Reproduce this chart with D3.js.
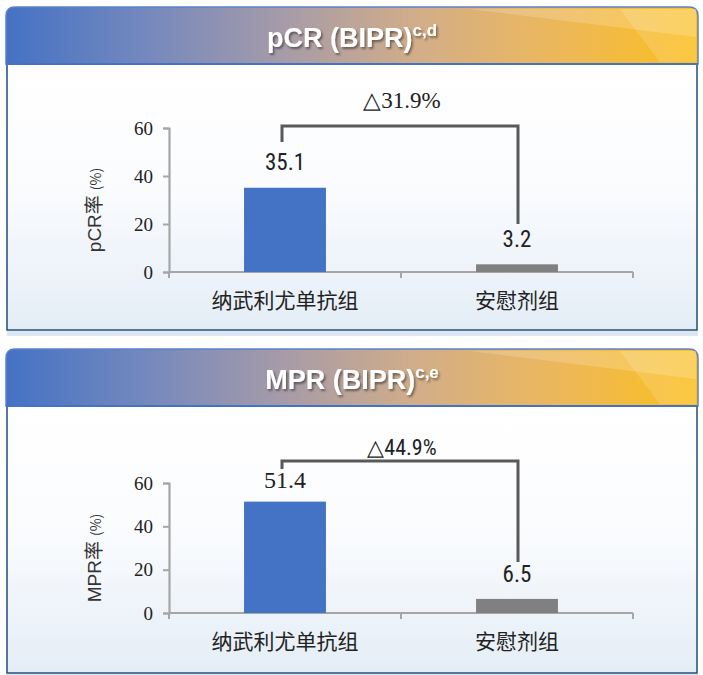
<!DOCTYPE html>
<html>
<head>
<meta charset="utf-8">
<script src="https://cdn.jsdelivr.net/npm/d3@7"></script>
<style>
  body { margin: 0; background: #fff; }
  svg { display: block; }
</style>
</head>
<body>
<svg id="chart" width="703" height="675"></svg>
<script>
// data
const groups = ['纳武利尤单抗组', '安慰剂组'];
const pcrValues = [35.1, 3.2];
const mprValues = [51.4, 6.5];
const yTicks = [0, 20, 40, 60];
const titles = ['pCR (BIPR)', 'MPR (BIPR)'];
const titleSups = ['c,d', 'c,e'];
const yLabels = ['pCR率', 'MPR率'];
const deltaLabels = ['△31.9%', '△44.9%'];

const svg = d3.select('#chart');
const defs = svg.append('defs');

const hg = defs.append('linearGradient').attr('id', 'headGrad');
[[0, '#4472c4'], [0.2, '#7488be'], [0.4, '#a69ba8'], [0.6, '#d3ae88'],
 [0.8, '#edb85a'], [1, '#fbbf1e']].forEach(s =>
  hg.append('stop').attr('offset', s[0]).attr('stop-color', s[1]));

const bg = defs.append('linearGradient').attr('id', 'bodyGrad')
  .attr('x1', 0).attr('x2', 0).attr('y1', 0).attr('y2', 1);
[[0, '#ffffff'], [0.45, '#fbfcfe'], [1, '#e4edf6']].forEach(s =>
  bg.append('stop').attr('offset', s[0]).attr('stop-color', s[1]));

const shadow = defs.append('filter').attr('id', 'shadow')
  .attr('x', -0.1).attr('y', -0.3).attr('width', 1.3).attr('height', 1.6);
shadow.append('feDropShadow').attr('dx', 1.5).attr('dy', 2)
  .attr('stdDeviation', 1.2).attr('flood-color', '#000').attr('flood-opacity', 0.45);

// panel layout
const panels = [
  { top: 7, bodyBottom: 330, y0: 272, y60: 128, values: pcrValues,
    valueFont: 'narrow', deltaFont: 'serif', deltaY: 108,
    bracket: { top: 60.8, left: 54.2, right: 20 }, valueY: [170, 247] },
  { top: 349, bodyBottom: 673, y0: 613, y60: 483, values: mprValues,
    valueFont: 'serif', deltaFont: 'narrow', deltaY: 455,
    bracket: { top: 70.1, left: 66.5, right: 23.5 }, valueY: [488, 582] }
];

const fonts = {
  narrow: 'Roboto Condensed',
  sans: 'Liberation Sans',
  serif: 'Liberation Serif',
  cjk: 'Noto Sans CJK SC'
};
const left = 6, right = 698, headH = 57;
const xScale = d3.scaleBand().domain(groups).range([169, 633])
  .paddingInner(0.647).paddingOuter(0.3235);

panels.forEach((p, i) => {
  const g = svg.append('g');

  // body
  g.append('rect').attr('x', left + 1).attr('y', p.top + headH)
    .attr('width', right - left - 2).attr('height', p.bodyBottom - p.top - headH)
    .attr('fill', 'url(#bodyGrad)').attr('stroke', '#1f4e79').attr('stroke-width', 1.5);
  g.append('rect').attr('x', left + 1).attr('y', p.bodyBottom + 1)
    .attr('width', right - left - 1).attr('height', 5).attr('fill', '#dce7f3');

  // header
  const r = 9;
  const hp = `M${left},${p.top + headH} V${p.top + r} Q${left},${p.top} ${left + r},${p.top}
    H${right - r} Q${right},${p.top} ${right},${p.top + r} V${p.top + headH} Z`;
  g.append('path').attr('d', hp).attr('fill', 'url(#headGrad)')
    .attr('stroke', '#5b82c9').attr('stroke-width', 1.5);
  g.append('path')
    .attr('d', `M470,${p.top + 2} L${right - 2},${p.top + 2} L${right - 2},${p.top + 30} Z`)
    .attr('fill', '#fff').attr('opacity', 0.18);
  g.append('path')
    .attr('d', `M620,${p.top + 2} L${right - 2},${p.top + 2} L${right - 2},${p.top + headH - 2} L660,${p.top + headH - 2} Z`)
    .attr('fill', '#fff').attr('opacity', 0.15);
  g.append('line').attr('x1', left).attr('x2', right)
    .attr('y1', p.top + headH).attr('y2', p.top + headH)
    .attr('stroke', '#4472c4').attr('stroke-width', 2);

  const title = g.append('text').attr('x', 352).attr('y', p.top + 40)
    .attr('text-anchor', 'middle').attr('fill', '#fff')
    .attr('font-family', fonts.sans)
    .attr('font-weight', 'bold').attr('font-size', 27).attr('filter', 'url(#shadow)');
  title.append('tspan').text(titles[i]);
  title.append('tspan').attr('font-size', 17).attr('dy', -11).text(titleSups[i]);

  // scales
  const y = d3.scaleLinear().domain([0, 60]).range([p.y0, p.y60]);

  // y axis
  const yAxis = g.append('g').attr('transform', 'translate(169,0)')
    .call(d3.axisLeft(y).tickValues(yTicks).tickSize(6).tickPadding(10));
  yAxis.attr('font-family', fonts.serif).attr('font-size', 19);
  yAxis.select('.domain').attr('stroke', '#a6a6a6').attr('stroke-width', 2.2);
  yAxis.selectAll('.tick line').attr('stroke', '#a6a6a6').attr('stroke-width', 2);
  yAxis.selectAll('.tick text').attr('fill', '#222');

  // x axis
  const xAxisG = g.append('g');
  xAxisG.append('line').attr('x1', 169).attr('x2', 633)
    .attr('y1', p.y0).attr('y2', p.y0).attr('stroke', '#a6a6a6').attr('stroke-width', 2.2);
  xAxisG.selectAll('line.tk').data([169, 401, 633]).join('line').attr('class', 'tk')
    .attr('x1', d => d).attr('x2', d => d).attr('y1', p.y0).attr('y2', p.y0 + 6)
    .attr('stroke', '#a6a6a6').attr('stroke-width', 2);
  xAxisG.selectAll('text').data(groups).join('text')
    .attr('x', d => xScale(d) + xScale.bandwidth() / 2).attr('y', p.y0 + 36)
    .attr('text-anchor', 'middle').attr('font-family', fonts.cjk)
    .attr('font-size', 21).attr('fill', '#222').text(d => d);

  // y label
  const yl = g.append('text')
    .attr('transform', `translate(101,${(p.y0 + p.y60) / 2 + 10}) rotate(-90)`)
    .attr('text-anchor', 'middle').attr('fill', '#333').attr('font-family', fonts.cjk)
    .attr('font-size', 19);
  yl.append('tspan').attr('font-family', fonts.sans).text(yLabels[i].slice(0, -1));
  yl.append('tspan').text(yLabels[i].slice(-1));
  yl.append('tspan').attr('font-size', 14).attr('dx', 5).text('(%)');

  // bars
  const data = groups.map((d, k) => ({ group: d, value: p.values[k] }));
  g.selectAll('rect.bar').data(data).join('rect').attr('class', 'bar')
    .attr('x', d => xScale(d.group)).attr('width', xScale.bandwidth())
    .attr('y', d => y(d.value)).attr('height', d => y(0) - y(d.value))
    .attr('fill', (d, k) => k === 0 ? '#4472c4' : '#808080');

  // value labels
  g.selectAll('text.val').data(data).join('text').attr('class', 'val')
    .attr('x', d => xScale(d.group) + xScale.bandwidth() / 2)
    .attr('y', (d, k) => p.valueY[k])
    .attr('text-anchor', 'middle').attr('fill', '#222')
    .attr('font-family', (d, k) => k === 0 ? fonts[p.valueFont] : fonts.narrow)
    .attr('font-size', (d, k) => k === 0 && p.valueFont === 'serif' ? 24 : 23)
    .text(d => d.value);

  // bracket
  const xl = xScale(groups[0]) + xScale.bandwidth() / 2 - 3;
  const xr = xScale(groups[1]) + xScale.bandwidth() / 2 + 1;
  g.append('path')
    .attr('d', `M${xl},${y(p.bracket.left)} V${y(p.bracket.top)} H${xr} V${y(p.bracket.right)}`)
    .attr('fill', 'none').attr('stroke', '#595959').attr('stroke-width', 3);

  g.append('text').attr('x', 402).attr('y', p.deltaY).attr('text-anchor', 'middle')
    .attr('font-family', fonts[p.deltaFont])
    .attr('font-size', p.deltaFont === 'serif' ? 23 : 22).attr('fill', '#222')
    .text(deltaLabels[i]);
});
</script>
</body>
</html>
